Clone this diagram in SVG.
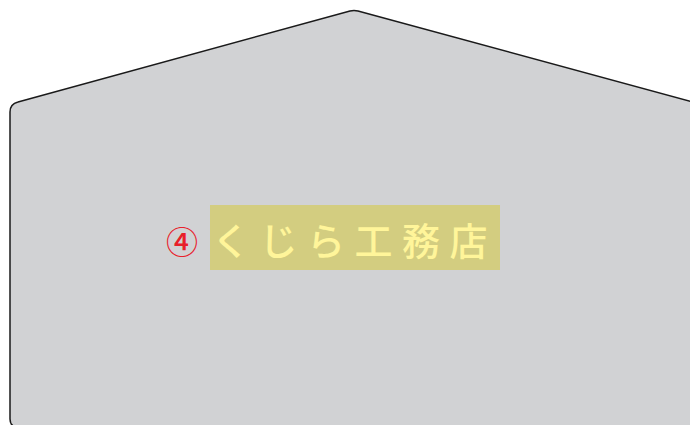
<svg xmlns="http://www.w3.org/2000/svg" width="690" height="425" viewBox="0 0 690 425">
<style>
.house{fill:#d1d2d4;stroke:#1a1a1a;stroke-width:1.5;stroke-linejoin:round}
.title{font-family:"Noto Sans CJK JP","Noto Sans",sans-serif;font-size:38px;font-weight:500;fill:#fff59a;letter-spacing:9.5px}
.num{font-family:"Noto Sans CJK JP","Noto Sans",sans-serif;font-size:32px;font-weight:500;fill:#e8202a}
</style>
<g id="house">
<path class="house" d="M700,427 L18,427 Q10,427 10,419 L10,112 Q10,104 18,102 L350,11 Q354,10 358,11 L700,104 Z"/>
</g>
<g id="label">
<rect x="210" y="205" width="290" height="65" fill="#d3cd80"/>
<text class="num" x="182" y="254" text-anchor="middle">④</text>
<text class="title" x="212" y="255">くじら工務店</text>
</g>
</svg>
